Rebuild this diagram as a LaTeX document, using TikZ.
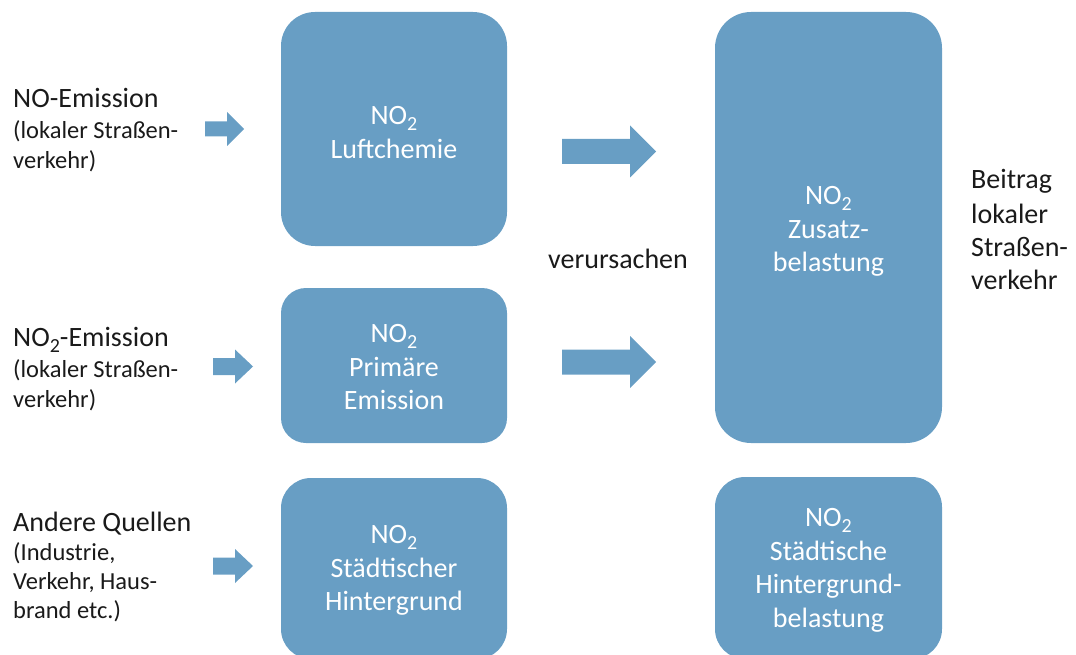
\documentclass[tikz,border=0pt]{standalone}
\usepackage{fontspec}
\setmainfont{Carlito}
\definecolor{boxblue}{RGB}{104,158,196}
\definecolor{ink}{RGB}{26,26,26}
\newcommand\lowtwo{\raisebox{-6pt}{\fontsize{20}{20}\selectfont 2}}
\tikzset{
  box/.style={fill=boxblue, draw=none, text=white, align=center,
    font=\fontsize{28}{33.5}\selectfont, inner sep=0pt},
  boxtext/.style={text=white, align=center, font=\fontsize{28}{33.5}\selectfont, inner sep=0pt},
  head/.style={font=\fontsize{28}{30}\selectfont, text=ink, anchor=base west, inner sep=0pt},
  sub/.style={font=\fontsize{24.5}{30}\selectfont, text=ink, anchor=base west, inner sep=0pt},
  blockarrow/.style={fill=boxblue, draw=none},
}
\newcommand\blockarr[6]{%
  \fill[blockarrow] (#1,{#4-#5}) -- (#3,{#4-#5}) -- (#3,{#4-#6}) -- (#2,#4)
    -- (#3,{#4+#6}) -- (#3,{#4+#5}) -- (#1,{#4+#5}) -- cycle;}
\begin{document}
\begin{tikzpicture}[x=1pt,y=-1pt]
\useasboundingbox (0,0) rectangle (1076,655);
\clip (0,0) rectangle (1076,655);
% boxes
\node[box, rounded corners=34, minimum width=226, minimum height=234] (luft) at (394,129) {};
\node[box, rounded corners=25, minimum width=226, minimum height=155] (prim) at (394,365.5) {};
\node[box, rounded corners=30, minimum width=226, minimum height=181] (stadt) at (394,568.5) {};
\node[box, rounded corners=36, minimum width=227, minimum height=431] (zusatz) at (828.5,227.5) {};
\node[box, rounded corners=30, minimum width=227, minimum height=182] (hinter) at (828.5,568) {};
% box texts
\node[boxtext] (luftT) at ([yshift=-3.5pt]luft.center) {NO\lowtwo\\Luftchemie};
\node[boxtext] (primT) at ([yshift=-2pt]prim.center) {NO\lowtwo\\Primäre\\Emission};
\node[boxtext] (stadtT) at ([yshift=-2pt]stadt.center) {NO\lowtwo\\Städtischer\\Hintergrund};
\node[boxtext] (zusatzT) at ([yshift=-4pt]zusatz.center) {NO\lowtwo\\Zusatz-\\belastung};
\node[boxtext] (hinterT) at ([yshift=-2.5pt]hinter.center) {NO\lowtwo\\Städtische\\Hintergrund-\\belastung};
% left labels
\node[head] (a1) at (13,108) {NO-Emission};
\node[sub] (a2) at (13,139) {(lokaler Straßen-};
\node[sub] (a3) at (13,169) {verkehr)};
\node[head] (b1) at (13,346) {NO\lowtwo-Emission};
\node[sub] (b2) at (13,377) {(lokaler Straßen-};
\node[sub] (b3) at (13,407) {verkehr)};
\node[head] (c1) at (13,531) {Andere Quellen};
\node[sub] (c2) at (13,560) {(Industrie,};
\node[sub] (c3) at (13,589) {Verkehr, Haus-};
\node[sub] (c4) at (13,618) {brand etc.)};
% middle and right labels
\node[head] (verur) at (548,268) {verursachen};
\node[head] (r1) at (971,189) {Beitrag};
\node[head] (r2) at (971,223) {lokaler};
\node[head] (r3) at (971,256) {Straßen-};
\node[head] (r4) at (971,289) {verkehr};
% arrows
\blockarr{205}{244}{227}{129}{7.5}{17}
\blockarr{213}{253}{235}{366.5}{8.5}{17}
\blockarr{213}{253}{235}{566}{8.5}{17}
\blockarr{562}{656}{630}{151.5}{12.5}{26}
\blockarr{562}{656}{630}{362}{12.5}{26}
\end{tikzpicture}
\end{document}
